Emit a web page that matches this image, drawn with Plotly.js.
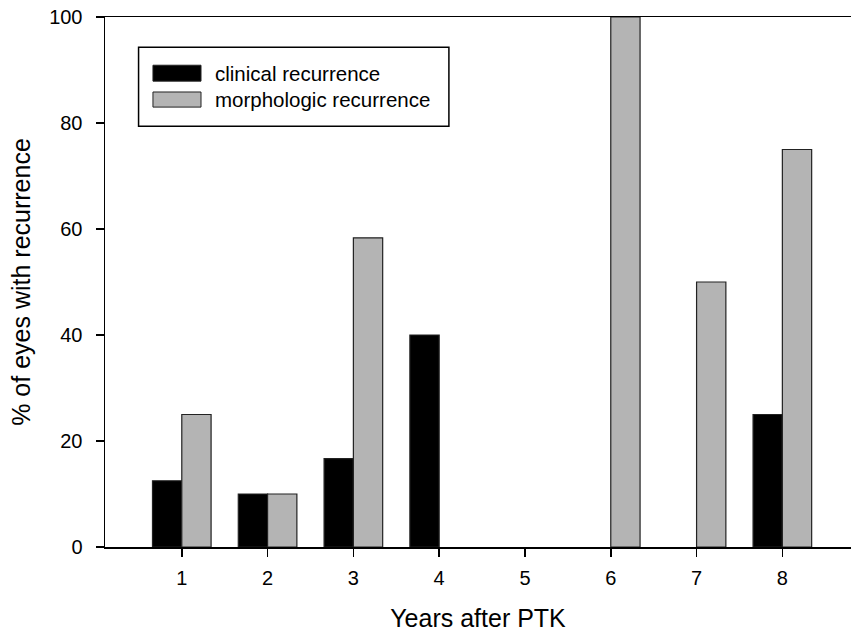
<!DOCTYPE html>
<html>
<head>
<meta charset="utf-8">
<script src="https://cdn.plot.ly/plotly-3.0.1.min.js"></script>
<style>html,body{margin:0;padding:0;background:#fff;}#chart{width:851px;height:632px;}</style>
</head>
<body>
<div id="chart"></div>
<script>
var years = [1, 2, 3, 4, 5, 6, 7, 8];
var clinical = [12.5, 10, 16.67, 40, 0, 0, 0, 25];
var morphologic = [25, 10, 58.33, 0, 0, 100, 50, 75];
var seriesNames = ["clinical recurrence", "morphologic recurrence"];
var seriesColors = ["#000000", "#b4b4b4"];
var xTitle = "Years after PTK";
var yTitle = "% of eyes with recurrence";

var font = "Liberation Sans, Arial, Helvetica, sans-serif";

function outlineWidths(vals) { return vals.map(function (v) { return v === 0 ? 0 : 1.2; }); }

var traces = [
  {type: "bar", x: years, y: clinical, name: seriesNames[0],
   marker: {color: seriesColors[0], line: {color: "#222", width: outlineWidths(clinical)}}},
  {type: "bar", x: years, y: morphologic, name: seriesNames[1],
   marker: {color: seriesColors[1], line: {color: "#222", width: outlineWidths(morphologic)}}}
];

var shapes = [
  {type: "rect", xref: "paper", yref: "paper", x0: 0.045, x1: 0.461, y0: 0.794, y1: 0.943,
   line: {color: "#000", width: 1.5}, fillcolor: "#fff"},
  {type: "rect", xref: "paper", yref: "paper", x0: 0.0643, x1: 0.1287, y0: 0.879, y1: 0.909,
   line: {color: "#222", width: 1}, fillcolor: seriesColors[0]},
  {type: "rect", xref: "paper", yref: "paper", x0: 0.0643, x1: 0.1287, y0: 0.830, y1: 0.8585,
   line: {color: "#222", width: 1}, fillcolor: seriesColors[1]}
];

var annotations = [
  {xref: "paper", yref: "paper", x: 0.1448, y: 0.894, xanchor: "left", yanchor: "middle",
   text: seriesNames[0], showarrow: false, font: {family: font, size: 20.5, color: "#000"}},
  {xref: "paper", yref: "paper", x: 0.1448, y: 0.844, xanchor: "left", yanchor: "middle",
   text: seriesNames[1], showarrow: false, font: {family: font, size: 20.5, color: "#000"}}
];

var layout = {
  width: 851, height: 632,
  margin: {l: 105, r: 0, t: 17, b: 85},
  paper_bgcolor: "#fff", plot_bgcolor: "#fff",
  showlegend: false,
  barmode: "group",
  bargap: 0.317,
  bargroupgap: 0,
  font: {family: font, color: "#000"},
  xaxis: {
    range: [0.105, 8.8],
    tickvals: years,
    ticktext: years.map(String),
    showgrid: false, zeroline: false,
    showline: true, linecolor: "#000", linewidth: 1.5, mirror: true,
    ticks: "outside", ticklen: 8, tickwidth: 1.5, tickcolor: "#000",
    ticklabelstandoff: 4,
    tickfont: {family: font, size: 20, color: "#000"},
    title: {text: xTitle, font: {family: font, size: 25, color: "#000"}, standoff: 24}
  },
  yaxis: {
    range: [0, 100],
    tickvals: [0, 20, 40, 60, 80, 100],
    showgrid: false, zeroline: false,
    showline: true, linecolor: "#000", linewidth: 1.5,
    ticks: "outside", ticklen: 8, tickwidth: 1.5, tickcolor: "#000",
    ticklabelstandoff: 9,
    tickfont: {family: font, size: 20, color: "#000"},
    title: {text: yTitle, font: {family: font, size: 25, color: "#000"}, standoff: 11}
  },
  shapes: shapes,
  annotations: annotations
};

Plotly.newPlot("chart", traces, layout, {displayModeBar: false, staticPlot: true});
</script>
</body>
</html>
